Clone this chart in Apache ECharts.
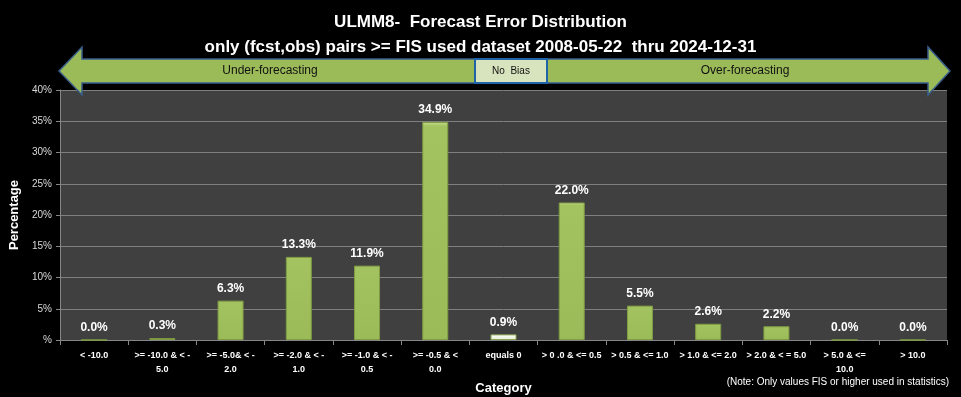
<!DOCTYPE html>
<html>
<head>
<meta charset="utf-8">
<script src="https://cdn.jsdelivr.net/npm/echarts@6/dist/echarts.min.js"></script>
<style>
  html, body { margin: 0; padding: 0; background: #000; }
  #chart { width: 961px; height: 397px; }
</style>
</head>
<body>
<div id="chart"></div>
<script>
// Error bins (fcst - obs), as printed under the axis
const categories = [
    '< -10.0',
    '>= -10.0 & < -\n5.0',
    '>= -5.0& < -\n2.0',
    '>= -2.0 & < -\n1.0',
    '>= -1.0 & < -\n0.5',
    '>= -0.5 & <\n0.0',
    'equals 0',
    '> 0 .0 & <= 0.5',
    '> 0.5 & <= 1.0',
    '> 1.0 & <= 2.0',
    '> 2.0 & < = 5.0',
    '> 5.0 & <=\n10.0',
    '> 10.0'
];
// Percentage of pairs in each bin
const percentages = [0.0, 0.3, 6.3, 13.3, 11.9, 34.9, 0.9, 22.0, 5.5, 2.6, 2.2, 0.0, 0.0];
const yTicks = { min: 0, max: 40, interval: 5 };
const noBiasCategory = 'equals 0';

const titleText = 'ULMM8-  Forecast Error Distribution\nonly (fcst,obs) pairs >= FIS used dataset 2008-05-22  thru 2024-12-31';
const noteText = '(Note: Only values FIS or higher used in statistics)';

const FONT = '"Liberation Sans", Arial, sans-serif';

const chart = echarts.init(document.getElementById('chart'));

const barData = percentages.map((v, i) => {
    if (categories[i] !== noBiasCategory) return v;
    return {
        value: v,
        itemStyle: {
            color: new echarts.graphic.LinearGradient(0, 0, 0, 1, [
                { offset: 0, color: '#ffffff' },
                { offset: 1, color: '#e4ecd2' }
            ]),
            borderColor: '#8aa654'
        }
    };
});

// banner arrow: Under-forecasting <- No Bias -> Over-forecasting
const arrowPoints = [
    [59, 71], [82, 47], [82, 59], [928, 59], [928, 47], [950, 71],
    [928, 95], [928, 83], [82, 83], [82, 95]
];

const option = {
    backgroundColor: '#000000',
    animation: false,
    textStyle: { fontFamily: FONT },
    title: {
        text: titleText,
        left: 'center',
        top: 5,
        textStyle: {
            color: '#ffffff',
            fontFamily: FONT,
            fontWeight: 'bold',
            fontSize: 17,
            lineHeight: 25,
            align: 'center'
        }
    },
    grid: {
        left: 60,
        right: 14,
        top: 90,
        bottom: 57,
        outerBoundsMode: 'none',
        containLabel: false,
        show: true,
        backgroundColor: '#404040',
        borderWidth: 0
    },
    xAxis: {
        type: 'category',
        data: categories,
        name: 'Category',
        nameLocation: 'middle',
        nameGap: 36,
        nameTextStyle: { color: '#ffffff', fontWeight: 'bold', fontSize: 13, fontFamily: FONT },
        axisLine: { lineStyle: { color: '#868686' } },
        axisTick: { show: true, length: 5, lineStyle: { color: '#868686' } },
        axisLabel: {
            color: '#ffffff',
            fontSize: 9,
            fontWeight: 'bold',
            lineHeight: 14,
            interval: 0,
            margin: 9,
            fontFamily: FONT
        }
    },
    yAxis: {
        type: 'value',
        min: yTicks.min,
        max: yTicks.max,
        interval: yTicks.interval,
        name: 'Percentage',
        nameLocation: 'middle',
        nameGap: 33,
        nameTextStyle: { color: '#ffffff', fontWeight: 'bold', fontSize: 13, fontFamily: FONT },
        axisLine: { show: true, lineStyle: { color: '#868686' } },
        axisTick: { show: true, length: 4, lineStyle: { color: '#868686' } },
        axisLabel: {
            color: '#d9d9d9',
            fontSize: 10,
            margin: 8,
            fontFamily: FONT,
            formatter: v => (v === 0 ? '%' : v + '%')
        },
        splitLine: { lineStyle: { color: '#7f7f7f', width: 1 } }
    },
    series: [{
        type: 'bar',
        data: barData,
        barWidth: 26,
        itemStyle: {
            color: new echarts.graphic.LinearGradient(0, 0, 0, 1, [
                { offset: 0, color: '#c9de8f' },
                { offset: 0.02, color: '#a3c260' },
                { offset: 1, color: '#9bbb59' }
            ]),
            borderColor: '#7f9c42',
            borderWidth: 1
        },
        label: {
            show: true,
            position: 'top',
            distance: 6,
            color: '#ffffff',
            fontWeight: 'bold',
            fontSize: 12,
            fontFamily: FONT,
            formatter: p => p.value.toFixed(1) + '%'
        }
    }],
    graphic: [
        {
            type: 'polygon',
            z: 100,
            shape: { points: arrowPoints },
            style: { fill: '#9bbb59', stroke: '#385d8a', lineWidth: 1.5 }
        },
        {
            type: 'text',
            z: 101,
            x: 270, y: 71,
            style: {
                text: 'Under-forecasting', fill: '#111111', fontSize: 12,
                fontFamily: FONT, align: 'center', verticalAlign: 'middle'
            }
        },
        {
            type: 'text',
            z: 101,
            x: 745, y: 71,
            style: {
                text: 'Over-forecasting', fill: '#111111', fontSize: 12,
                fontFamily: FONT, align: 'center', verticalAlign: 'middle'
            }
        },
        {
            type: 'rect',
            z: 102,
            shape: { x: 475, y: 59, width: 72, height: 24 },
            style: { fill: '#d7e4bd', stroke: '#1f64a8', lineWidth: 2 }
        },
        {
            type: 'text',
            z: 103,
            x: 511, y: 71,
            style: {
                text: 'No  Bias', fill: '#111111', fontSize: 10,
                fontFamily: FONT, align: 'center', verticalAlign: 'middle'
            }
        },
        {
            type: 'text',
            z: 101,
            right: 12, top: 377,
            style: { text: noteText, fill: '#ffffff', fontSize: 10, fontFamily: FONT }
        }
    ]
};

chart.setOption(option);
</script>
</body>
</html>
